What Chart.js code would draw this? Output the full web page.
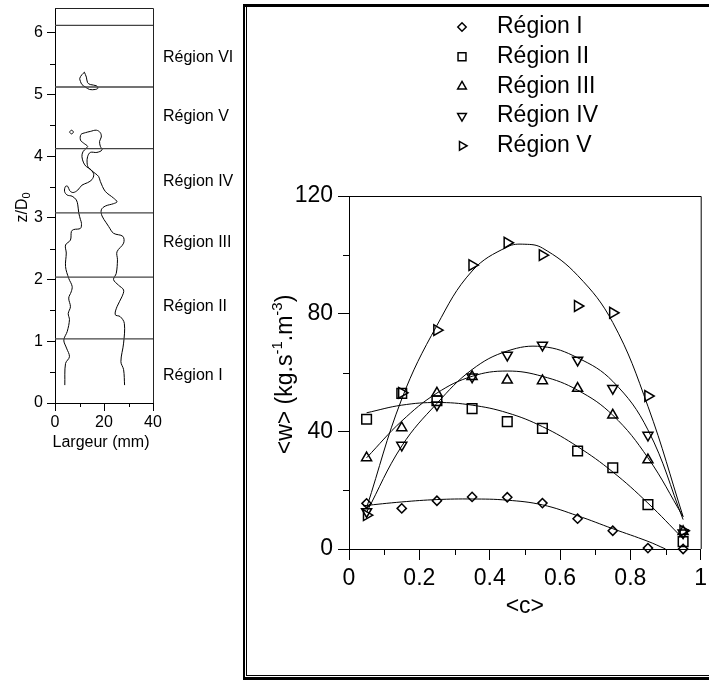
<!DOCTYPE html>
<html><head><meta charset="utf-8">
<script src="https://cdn.jsdelivr.net/npm/chart.js@4.4.0/dist/chart.umd.min.js"></script>
<style>
html,body{margin:0;padding:0;background:#fff;width:709px;height:680px;overflow:hidden;}
#left{position:absolute;left:0;top:0;}
#frameOuter{position:absolute;left:243px;top:4px;width:480px;height:676px;box-sizing:border-box;border:solid #000;border-width:3px 0 3px 2px;}
#frameInner{position:absolute;left:1px;top:0;right:0;bottom:1px;border:solid #000;border-width:0 0 1px 1px;}
#right{position:absolute;left:248px;top:8px;}
</style></head>
<body>
<canvas id="left" width="240" height="470"></canvas>
<div id="frameOuter"><div id="frameInner"></div></div>
<canvas id="right" width="461" height="664"></canvas>
<script>
// ---------------- data: right chart ----------------
const cValues   = [0.05,0.15,0.25,0.35,0.45,0.55,0.65,0.75,0.85,0.95];
const regionI   = [15.5,13.8,16.4,17.7,17.6,15.6,10.3,6.2,0.3,0.0];
const regionII  = [44.1,52.9,50.4,47.7,43.3,41.0,33.3,27.6,15.1,2.5];
const regionIII = [31.0,41.2,53.0,58.6,57.4,57.2,54.6,45.5,30.3,5.9];
const regionIV  = [12.7,35.3,49.0,58.5,65.9,69.3,64.2,54.6,38.7,5.5];
const regionV   = [11.5,53.1,74.4,96.5,104.1,99.9,82.6,80.3,52.0,6.2];
const seriesLabels = ['Région I','Région II','Région III','Région IV','Région V'];

// fitted curves
const fitC_I  = [0.04,0.15,0.25,0.35,0.45,0.55,0.65,0.75,0.85,0.90];
const fitI    = [14.7,16.0,16.8,17.0,16.6,15.0,11.3,6.9,2.6,0.0];
const fitC    = [0.05,0.15,0.25,0.35,0.45,0.55,0.65,0.75,0.85,0.95];
const fitII   = [46.3,48.9,49.8,48.9,46.3,41.6,34.8,26.2,15.6,3.5];
const fitIII  = [31.0,43.5,53.0,58.7,60.5,58.7,54.0,45.5,31.0,11.0];
const fitIV   = [12.5,35.0,49.5,61.0,67.3,68.8,65.0,57.0,40.5,10.0];
const fitC_V  = [0.05,0.15,0.25,0.35,0.45,0.50,0.55,0.65,0.75,0.85,0.95];
const fitV    = [14.0,51.0,76.0,94.5,102.7,103.6,102.3,93.0,77.0,48.5,11.0];

const rightXMinor = [0.1,0.3,0.5,0.7,0.9];
const rightYMinor = [20,60,100];

// ---------------- data: left chart ----------------
const flameX = [4.0,4.3,5.9,4.7,3.6,5.0,5.9,5.4,6.3,5.6,6.6,7.0,5.6,4.3,4.6,4.3,6.3,6.7,7.6,10.4,10.8,10.4,9.7,9.3,8.7,7.0,4.95,3.9,4.3,5.2,6.0,7.4,9.3,11.0,13.3,15.1,15.8,14.7,12.8,11.7,11.0,11.4,12.8,13.3,11.7,10.4,10.6,12.4,14.4,16.9,18.5,18.9,18.2,18.5,19.2,17.1,14.4,13.3,13.1,13.7,16.4,17.8,18.5,20.5,23.9,25.3,23.9,20.5,18.9,19.2,20.9,21.9,23.9,27.7,28.0,25.3,25.5,25.0,23.9,25.9,28.0,27.3,25.3,24.6,26.6,28.3,28.0,26.9,28.0,28.4];
const flameZ = [0.29,0.64,0.75,0.89,1.02,1.16,1.35,1.45,1.56,1.70,1.80,1.89,2.02,2.21,2.43,2.56,2.64,2.78,2.81,2.83,2.91,2.97,3.08,3.21,3.29,3.35,3.37,3.43,3.51,3.51,3.44,3.41,3.45,3.53,3.57,3.62,3.70,3.78,3.83,3.89,3.99,4.07,4.13,4.16,4.21,4.26,4.35,4.38,4.40,4.42,4.38,4.31,4.24,4.16,4.10,4.06,4.06,3.99,3.89,3.81,3.72,3.67,3.59,3.43,3.32,3.26,3.23,3.19,3.13,3.03,2.92,2.86,2.75,2.70,2.59,2.45,2.32,2.10,2.00,1.91,1.83,1.72,1.56,1.43,1.40,1.29,0.97,0.67,0.54,0.29];
const blobX = [12.0,12.8,13.3,14.4,16.9,17.5,16.4,14.1,12.4,11.0,10.4,10.1,11.0,12.0];
const blobZ = [5.36,5.28,5.19,5.16,5.14,5.10,5.08,5.08,5.12,5.16,5.21,5.26,5.32,5.36];
const ovalX = [5.9,6.7,7.5,6.7,5.9];
const ovalZ = [4.39,4.42,4.39,4.36,4.39];
const regionBounds = [1.04,2.04,3.08,4.12,5.12,6.12];
const regionNames  = ['Région I','Région II','Région III','Région IV','Région V','Région VI'];
const regionLabelZ = [0.44,1.56,2.60,3.58,4.64,5.60];
const leftYMinor = [0.5,1.5,2.5,3.5,4.5,5.5];
const leftXMinor = [10,30];

// ---------------- helpers ----------------
const F = '"Liberation Sans", Arial, Helvetica, sans-serif';
const pts = (xs, ys) => xs.map((x, i) => ({x: x, y: ys[i]}));

function drawMarker(ctx, style, rot, r, x, y) {
  ctx.beginPath();
  if (style === 'rect') { const s = Math.SQRT1_2 * r; ctx.rect(x - s, y - s, 2 * s, 2 * s); }
  else if (style === 'rectRot') { ctx.moveTo(x - r, y); ctx.lineTo(x, y - r); ctx.lineTo(x + r, y); ctx.lineTo(x, y + r); ctx.closePath(); }
  else {
    let a = rot * Math.PI / 180;
    ctx.moveTo(x + Math.sin(a) * r, y - Math.cos(a) * r);
    a += 2 * Math.PI / 3; ctx.lineTo(x + Math.sin(a) * r, y - Math.cos(a) * r);
    a += 2 * Math.PI / 3; ctx.lineTo(x + Math.sin(a) * r, y - Math.cos(a) * r);
    ctx.closePath();
  }
  ctx.stroke();
}

function drawPieces(ctx, pieces, mainSize, subSize) {
  let total = 0;
  pieces.forEach(p => { ctx.font = (p.s ? subSize : mainSize) + 'px ' + F; p.w = ctx.measureText(p.t).width; total += p.w; });
  let x = -total / 2;
  pieces.forEach(p => {
    ctx.font = (p.s ? subSize : mainSize) + 'px ' + F;
    ctx.fillText(p.t, x, p.s || 0);
    x += p.w;
  });
}

// ---------------- left chart ----------------
const leftDeco = {
  id: 'leftDeco',
  afterDraw(chart) {
    const {ctx, chartArea: a, scales: {x, y}} = chart;
    ctx.save();
    ctx.strokeStyle = '#222'; ctx.lineWidth = 1;
    ctx.beginPath();
    ctx.moveTo(a.left, a.top + 0.5); ctx.lineTo(a.right + 0.5, a.top + 0.5); ctx.lineTo(a.right + 0.5, a.bottom);
    ctx.stroke();
    ctx.strokeStyle = '#000';
    ctx.beginPath();
    leftYMinor.forEach(v => { const p = Math.round(y.getPixelForValue(v)) + 0.5; ctx.moveTo(a.left, p); ctx.lineTo(a.left - 5, p); });
    leftXMinor.forEach(v => { const p = Math.round(x.getPixelForValue(v)) + 0.5; ctx.moveTo(p, a.bottom); ctx.lineTo(p, a.bottom + 4); });
    ctx.stroke();
    ctx.fillStyle = '#000';
    ctx.font = '16px ' + F; ctx.textBaseline = 'middle'; ctx.textAlign = 'left';
    regionNames.forEach((n, i) => ctx.fillText(n, a.right + 10, y.getPixelForValue(regionLabelZ[i])));
    ctx.textAlign = 'center';
    ctx.fillText('Largeur (mm)', (a.left + a.right) / 2 - 3, a.bottom + 40);
    ctx.save();
    ctx.translate(27, (a.top + a.bottom) / 2 + 2);
    ctx.rotate(-Math.PI / 2);
    ctx.textAlign = 'left'; ctx.textBaseline = 'alphabetic';
    drawPieces(ctx, [{t: 'z/D'}, {t: '0', s: 3}], 16, 11);
    ctx.restore();
    ctx.restore();
  }
};

const leftSets = regionBounds.map(z => ({
  data: [{x: 0, y: z}, {x: 40, y: z}], showLine: true, borderColor: '#444', borderWidth: 1.3, pointRadius: 0
}));
leftSets.push({data: pts(flameX, flameZ), showLine: true, tension: 0.35, borderColor: '#000', borderWidth: 1, pointRadius: 0});
leftSets.push({data: pts(blobX, blobZ), showLine: true, tension: 0.35, borderColor: '#000', borderWidth: 1, pointRadius: 0});
leftSets.push({data: pts(ovalX, ovalZ), showLine: true, tension: 0.4, borderColor: '#000', borderWidth: 1, pointRadius: 0});

new Chart(document.getElementById('left'), {
  type: 'scatter',
  data: {datasets: leftSets},
  options: {
    responsive: false, animation: false, events: [],
    layout: {padding: {left: 25, right: 87, top: 8, bottom: 17}},
    plugins: {legend: {display: false}, tooltip: {enabled: false}},
    scales: {
      x: {
        type: 'linear', min: 0, max: 40,
        afterFit(s) { s.height = 50; s.paddingLeft = 0; s.paddingRight = 0; },
        ticks: {stepSize: 20, font: {family: F, size: 16}, color: '#000', padding: 2, maxRotation: 0, autoSkip: false},
        grid: {drawOnChartArea: false, tickLength: 8, color: '#000'},
        border: {color: '#000', width: 1}
      },
      y: {
        type: 'linear', min: 0, max: 6.4,
        afterFit(s) { s.width = 30; s.paddingTop = 0; s.paddingBottom = 0; },
        ticks: {stepSize: 1, includeBounds: false, font: {family: F, size: 16}, color: '#000', padding: 4},
        grid: {drawOnChartArea: false, tickLength: 8, color: '#000'},
        border: {color: '#000', width: 1}
      }
    }
  },
  plugins: [leftDeco]
});

// ---------------- right chart ----------------
const markerStyles = [
  {style: 'rectRot', rot: 0, r: 4.6, lr: 4.2},
  {style: 'rect', rot: 0, r: 6.8, lr: 5.6},
  {style: 'triangle', rot: 0, r: 5.8, lr: 5},
  {style: 'triangle', rot: 180, r: 5.8, lr: 5},
  {style: 'triangle', rot: 90, r: 6.2, lr: 5}
];
const seriesValues = [regionI, regionII, regionIII, regionIV, regionV];
const fits = [[fitC_I, fitI], [fitC, fitII], [fitC, fitIII], [fitC, fitIV], [fitC_V, fitV]];

const rightDeco = {
  id: 'rightDeco',
  afterDraw(chart) {
    const {ctx, chartArea: a, scales: {x, y}} = chart;
    ctx.save();
    ctx.strokeStyle = '#000'; ctx.lineWidth = 1;
    ctx.beginPath();
    ctx.moveTo(a.left, a.top + 0.5); ctx.lineTo(a.right + 0.5, a.top + 0.5); ctx.lineTo(a.right + 0.5, a.bottom);
    ctx.stroke();
    ctx.beginPath();
    rightYMinor.forEach(v => { const p = Math.round(y.getPixelForValue(v)) + 0.5; ctx.moveTo(a.left, p); ctx.lineTo(a.left - 6, p); });
    rightXMinor.forEach(v => { const p = Math.round(x.getPixelForValue(v)) + 0.5; ctx.moveTo(p, a.bottom); ctx.lineTo(p, a.bottom + 6); });
    ctx.stroke();
    ctx.fillStyle = '#000';
    ctx.textAlign = 'center'; ctx.textBaseline = 'middle';
    ctx.font = '23px ' + F;
    ctx.fillText('<c>', (a.left + a.right) / 2, a.bottom + 58);
    // y title
    ctx.save();
    ctx.translate(a.left - 63, (a.top + a.bottom) / 2 + 2);
    ctx.rotate(-Math.PI / 2);
    ctx.textAlign = 'left'; ctx.textBaseline = 'middle';
    drawPieces(ctx, [{t: '<w> (kg.s'}, {t: '-1', s: -8}, {t: '.m'}, {t: '-3', s: -8}, {t: ')'}], 23, 15);
    ctx.restore();
    // legend
    ctx.lineWidth = 1.5;
    ctx.textAlign = 'left'; ctx.textBaseline = 'middle'; ctx.font = '23px ' + F;
    seriesLabels.forEach((lab, i) => {
      const ly = 19 + i * 29.7;
      const m = markerStyles[i];
      drawMarker(ctx, m.style, m.rot, m.lr, 214, ly);
      ctx.fillText(lab, 249, ly);
    });
    ctx.restore();
  }
};

const rightSets = [];
fits.forEach(f => rightSets.push({
  data: pts(f[0], f[1]), showLine: true, tension: 0.4, borderColor: '#000', borderWidth: 1, pointRadius: 0
}));
seriesValues.forEach((vals, i) => rightSets.push({
  label: seriesLabels[i], data: pts(cValues, vals), showLine: false, clip: false,
  pointStyle: markerStyles[i].style, rotation: markerStyles[i].rot, pointRadius: markerStyles[i].r,
  pointBorderColor: '#000', pointBackgroundColor: 'rgba(0,0,0,0)', pointBorderWidth: 1.5
}));

new Chart(document.getElementById('right'), {
  type: 'scatter',
  data: {datasets: rightSets},
  options: {
    responsive: false, animation: false, events: [],
    layout: {padding: {left: 41, right: 8, top: 188, bottom: 53}},
    plugins: {legend: {display: false}, tooltip: {enabled: false}},
    scales: {
      x: {
        type: 'linear', min: 0, max: 1,
        afterFit(s) { s.height = 70; s.paddingLeft = 0; s.paddingRight = 0; },
        ticks: {stepSize: 0.2, font: {family: F, size: 23}, color: '#000', padding: 5, maxRotation: 0, autoSkip: false,
          callback: v => String(Math.round(v * 10) / 10)},
        grid: {drawOnChartArea: false, tickLength: 11, color: '#000'},
        border: {color: '#000', width: 1}
      },
      y: {
        type: 'linear', min: 0, max: 120,
        afterFit(s) { s.width = 60; s.paddingTop = 0; s.paddingBottom = 0; },
        ticks: {stepSize: 40, font: {family: F, size: 23}, color: '#000', padding: 5},
        grid: {drawOnChartArea: false, tickLength: 11, color: '#000'},
        border: {color: '#000', width: 1}
      }
    }
  },
  plugins: [rightDeco]
});
</script>
</body></html>
